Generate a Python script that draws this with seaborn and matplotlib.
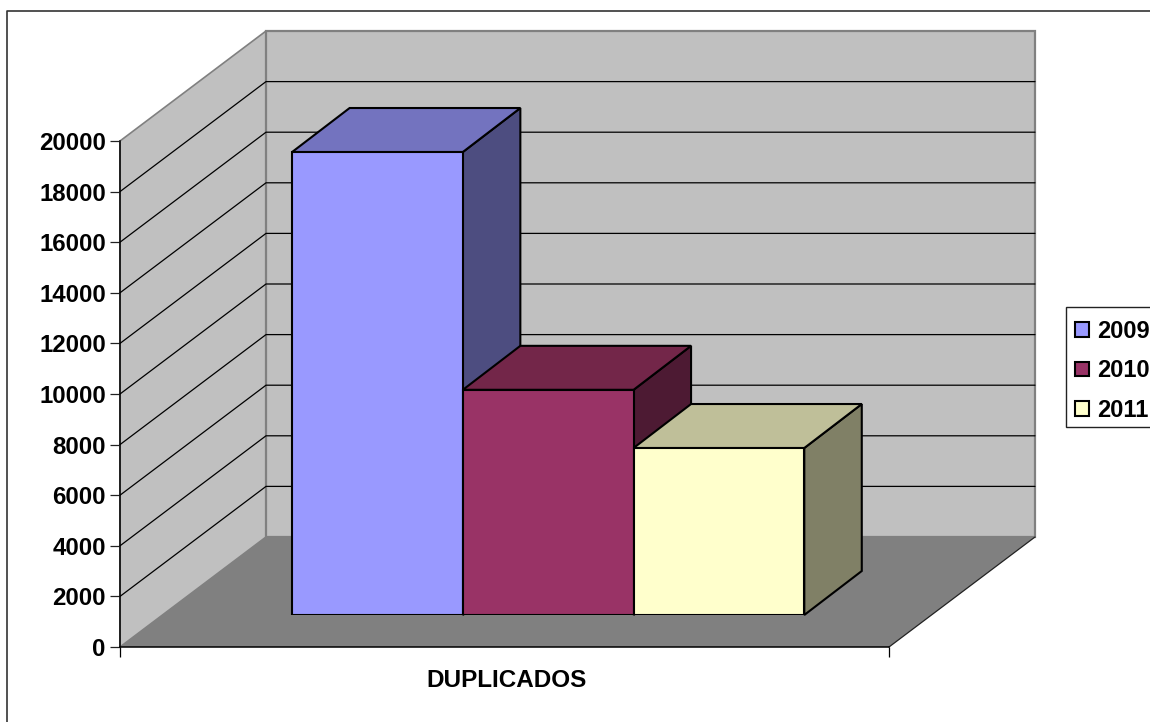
import matplotlib
matplotlib.use("Agg")
import matplotlib.pyplot as plt
from matplotlib.lines import Line2D
from matplotlib.patches import Patch, Polygon, Rectangle
import pandas as pd
import seaborn as sns

# Values
category = "DUPLICADOS"
years = ["2009", "2010", "2011"]
values = [18300, 8900, 6600]
y_ticks = list(range(0, 20001, 2000))
colors = ["#9999FF", "#993366", "#FFFFCC"]
top_colors = ["#7373BF", "#732649", "#BFBF99"]
side_colors = ["#4D4D80", "#4D1A33", "#808066"]

WALL = "#C0C0C0"
FLOOR = "#808080"
W, H = 1150, 722

sns.set_theme(style="white")
plt.rcParams["font.family"] = ["Liberation Sans", "DejaVu Sans"]
plt.rcParams["font.weight"] = "bold"
plt.rcParams["text.color"] = "black"
plt.rcParams["xtick.color"] = "black"
plt.rcParams["ytick.color"] = "black"

fig = plt.figure(figsize=(W / 100, H / 100), dpi=100, facecolor="white")


def axes_at(left, bottom_px, width, height):
    # pixel box, measured from the top of the image
    return fig.add_axes([left / W, 1 - bottom_px / H, width / W, height / H])


PLOT_W, PLOT_H = 769, 506
ax = axes_at(120, 647, PLOT_W, PLOT_H)
ax.set_xlim(-0.5, 0.5)
ax.set_ylim(0, 20000)
ax.patch.set_alpha(0)

px_x = 1 / PLOT_W
px_y = 20000 / PLOT_H
wall_dx = 146 * px_x
wall_dy = 110 * px_y

# walls and floor
ax.add_patch(Polygon([(-0.5, 0), (-0.5 + wall_dx, wall_dy), (-0.5 + wall_dx, 20000 + wall_dy), (-0.5, 20000)],
                     facecolor=WALL, edgecolor=FLOOR, lw=1.2, clip_on=False, zorder=1))
ax.add_patch(Polygon([(-0.5 + wall_dx, wall_dy), (0.5 + wall_dx, wall_dy), (0.5 + wall_dx, 20000 + wall_dy), (-0.5 + wall_dx, 20000 + wall_dy)],
                     facecolor=WALL, edgecolor=FLOOR, lw=1.6, clip_on=False, zorder=1))
ax.add_patch(Polygon([(-0.5, 0), (0.5, 0), (0.5 + wall_dx, wall_dy), (-0.5 + wall_dx, wall_dy)],
                     facecolor=FLOOR, edgecolor="none", clip_on=False, zorder=1.5))
ax.plot([0.5, 0.5 + wall_dx], [0, wall_dy], color="#222222", lw=0.9, clip_on=False, zorder=1.6)

# gridlines run along the left wall, then across the back wall
for v in y_ticks[1:-1]:
    ax.plot([-0.5, -0.5 + wall_dx, 0.5 + wall_dx], [v, v + wall_dy, v + wall_dy],
            color="black", lw=0.9, clip_on=False, zorder=1.2)

ax.set_yticks(y_ticks)
ax.set_xticks([-0.5, 0.5], labels=["", ""])
ax.set_xticks([2 * px_x], labels=[category], minor=True)
ax.tick_params(axis="y", which="major", left=True, length=7.2, width=0.9, color="#222222", pad=3, labelsize=17.3)
ax.tick_params(axis="x", which="major", bottom=True, length=7.2, width=0.9, color="black")
ax.tick_params(axis="x", which="minor", bottom=False, length=0, pad=15.5, labelsize=17.5)
ax.spines[["top", "right"]].set_visible(False)
ax.spines[["left", "bottom"]].set_color("black")
ax.spines[["left", "bottom"]].set_linewidth(1.1)
ax.spines[["left", "bottom"]].set_zorder(2)

# bars sit on a plane pushed back into the floor
bar_ax = axes_at(120 + 43.7, 647 - 32, PLOT_W, PLOT_H)
df = pd.DataFrame({"category": [category] * len(years), "year": years, "value": values})
sns.barplot(data=df, x="category", y="value", hue="year", palette=colors, width=0.666, gap=0,
            edgecolor="black", linewidth=1.5, saturation=1, legend=False, ax=bar_ax, zorder=5)
bar_ax.set_xlim(-0.5, 0.5)
bar_ax.set_ylim(0, 20000)
bar_ax.axis("off")

depth_x = 57.5 * px_x
depth_y = 44 * px_y
bars = sorted(bar_ax.patches, key=lambda b: b.get_x())
for i, bar in enumerate(bars):
    x0, x1 = bar.get_x(), bar.get_x() + bar.get_width()
    h = bar.get_height()
    bar_ax.add_patch(Polygon([(x1, 0), (x1 + depth_x, depth_y), (x1 + depth_x, h + depth_y), (x1, h)],
                             facecolor=side_colors[i], edgecolor="black", lw=1.5, clip_on=False, zorder=3 + i * 0.2))
    bar_ax.add_patch(Polygon([(x0, h), (x1, h), (x1 + depth_x, h + depth_y), (x0 + depth_x, h + depth_y)],
                             facecolor=top_colors[i], edgecolor="black", lw=1.5, clip_on=False, zorder=3.1 + i * 0.2))

# legend box runs off the right of the image like the original
fig.add_artist(Rectangle((1066 / W, 1 - 427 / H), 100 / W, 120 / H, transform=fig.transFigure,
                         facecolor="white", edgecolor="#222222", lw=1.0))
handles = [Patch(facecolor=c, edgecolor="black", lw=1.5, label=y) for c, y in zip(colors, years)]
fig.legend(handles=handles, loc="upper left", bbox_to_anchor=(1066 / W, 1 - 311 / H), borderaxespad=0,
           fontsize=17, frameon=False, handlelength=0.58, handleheight=0.58,
           handletextpad=0.34, labelspacing=0.69, borderpad=0.38)

# outer chart border, only the top and left show
fig.add_artist(Line2D([7 / W, 7 / W, 1], [0, 1 - 11 / H, 1 - 11 / H], color="#333333", lw=1.2))

fig.savefig("out.png", dpi=100)
